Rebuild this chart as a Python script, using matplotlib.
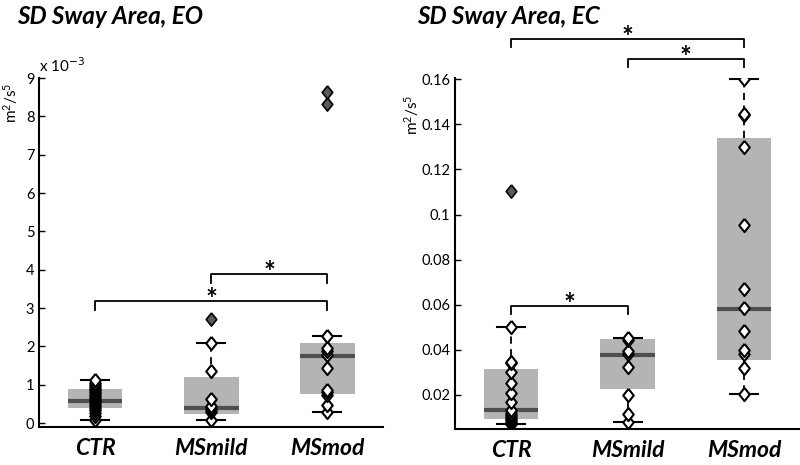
import matplotlib
matplotlib.use("Agg")
import matplotlib.pyplot as plt

plt.rcParams['font.family'] = ['Lato', 'DejaVu Sans']

groups = ['CTR', 'MSmild', 'MSmod']

# EO panel, values in units of 1e-3 m^2/s^5
eo_q1 = [0.38, 0.24, 0.76]
eo_med = [0.57, 0.40, 1.76]
eo_q3 = [0.89, 1.20, 2.09]
eo_lo = [0.07, 0.07, 0.29]
eo_hi = [1.12, 2.09, 2.27]
eo_points = [
    [0.07, 0.18, 0.26, 0.33, 0.40, 0.45, 0.50, 0.55, 0.60, 0.65, 0.70, 0.75,
     0.80, 0.85, 0.90, 0.95, 1.00, 1.05, 1.12],
    [0.07, 0.28, 0.33, 0.38, 0.45, 0.62, 1.36, 2.09],
    [0.29, 0.48, 0.72, 0.80, 0.87, 1.43, 1.78, 1.88, 1.97, 2.27],
]
eo_outliers = [[], [2.72], [8.32, 8.65]]

# EC panel, values in m^2/s^5
ec_q1 = [0.0093, 0.0227, 0.0355]
ec_med = [0.0134, 0.0378, 0.0580]
ec_q3 = [0.0315, 0.0446, 0.1340]
ec_lo = [0.0069, 0.0082, 0.0203]
ec_hi = [0.0500, 0.0454, 0.1600]
ec_points = [
    [0.0069, 0.0075, 0.0080, 0.0088, 0.0095, 0.0102, 0.0110, 0.0120, 0.0132,
     0.0170, 0.0210, 0.0255, 0.0300, 0.0340, 0.0345, 0.0500],
    [0.0082, 0.0115, 0.0200, 0.0325, 0.0380, 0.0395, 0.0445, 0.0454],
    [0.0205, 0.0320, 0.0380, 0.0400, 0.0485, 0.0585, 0.0670, 0.0955,
     0.1300, 0.1440, 0.1445, 0.1600],
]
ec_outliers = [[0.1105], [], []]

# significance brackets: (group a, group b, bar height, leg bottom)
eo_sig = [(1, 3, 3.18, 2.95), (2, 3, 3.89, 3.66)]
ec_sig = [(1, 3, 0.178, 0.1745), (2, 3, 0.169, 0.1653), (1, 2, 0.0595, 0.0557)]

box_color = '#b4b4b4'
med_color = '#4f4f4f'
diamond = [(0, 1), (0.8, 0), (0, -1), (-0.8, 0), (0, 1)]


def draw_panel(ax, q1, med, q3, lo, hi, points, outliers, sig, ylim):
    stats = []
    for i in range(len(groups)):
        stats.append({'q1': q1[i], 'med': med[i], 'q3': q3[i],
                      'whislo': lo[i], 'whishi': hi[i], 'fliers': []})
    ax.bxp(stats, positions=[1, 2, 3], widths=0.47, capwidths=0.24,
           patch_artist=True, showfliers=False,
           boxprops=dict(facecolor=box_color, edgecolor='none'),
           medianprops=dict(color=med_color, linewidth=3),
           whiskerprops=dict(color='black', linewidth=1.3, linestyle=(0, (4, 3))),
           capprops=dict(color='black', linewidth=1.5))
    for i in range(len(groups)):
        ax.plot([i + 1] * len(points[i]), points[i], linestyle='none',
                marker=diamond, markersize=9.5, markerfacecolor='white',
                markeredgecolor='black', markeredgewidth=1.5, zorder=5)
        if outliers[i]:
            ax.plot([i + 1] * len(outliers[i]), outliers[i], linestyle='none',
                    marker=diamond, markersize=9.5, markerfacecolor='#5a5a5a',
                    markeredgecolor='black', markeredgewidth=1.2, zorder=5)
    for a, b, top, leg in sig:
        ax.plot([a, a, b, b], [leg, top, top, leg], color='black',
                linewidth=1.3, clip_on=False)
        ax.annotate('*', xy=((a + b) / 2, top), xytext=(0, -5),
                    textcoords='offset points', ha='center', va='baseline',
                    fontsize=20, fontweight='bold', annotation_clip=False)
    ax.set_xlim(0.52, 3.48)
    ax.set_ylim(*ylim)
    ax.set_xticks([1, 2, 3])
    ax.set_xticklabels(groups, fontsize=16.5, fontweight='bold', style='italic')
    ax.tick_params(axis='x', length=0, pad=8)
    ax.tick_params(axis='y', direction='in', length=4, width=1, labelsize=10.5)
    for s in ['top', 'right']:
        ax.spines[s].set_visible(False)
    for s in ['left', 'bottom']:
        ax.spines[s].set_linewidth(1.5)
    ax.set_ylabel(r'$\mathregular{m^2/s^5}$', fontsize=11)


fig = plt.figure(figsize=(8, 4.65), dpi=100)
ax1 = fig.add_axes([0.049, 0.082, 0.43, 0.75])
ax2 = fig.add_axes([0.569, 0.077, 0.431, 0.755])

draw_panel(ax1, eo_q1, eo_med, eo_q3, eo_lo, eo_hi, eo_points, eo_outliers,
           eo_sig, (-0.1, 9))
ax1.set_yticks(range(0, 10))
ax1.yaxis.set_label_coords(-0.055, 0.93)
ax1.text(0.0, 1.01, r'x 10$^{-3}$', transform=ax1.transAxes, fontsize=11,
         ha='left', va='bottom')

draw_panel(ax2, ec_q1, ec_med, ec_q3, ec_lo, ec_hi, ec_points, ec_outliers,
           ec_sig, (0.0048, 0.1605))
ax2.set_yticks([0.02, 0.04, 0.06, 0.08, 0.1, 0.12, 0.14, 0.16])
ax2.set_yticklabels(['0.02', '0.04', '0.06', '0.08', '0.1', '0.12', '0.14', '0.16'])
ax2.yaxis.set_label_coords(-0.10, 0.895)

fig.text(0.021, 0.99, 'SD Sway Area, EO', fontsize=17.5, fontweight='bold',
         style='italic', ha='left', va='top')
fig.text(0.521, 0.99, 'SD Sway Area, EC', fontsize=17.5, fontweight='bold',
         style='italic', ha='left', va='top')

fig.savefig('out.png', dpi=100)
